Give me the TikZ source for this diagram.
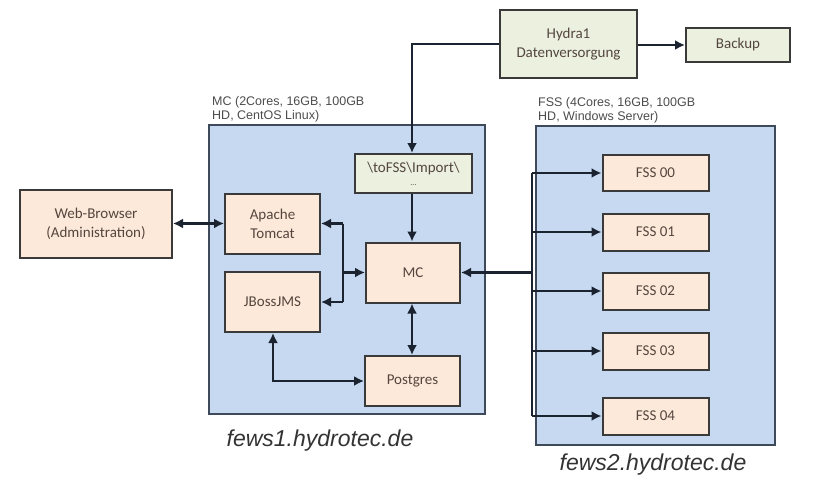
\documentclass[tikz,border=0pt]{standalone}
\usepackage{fontspec}
\setmainfont{Carlito}
\newfontfamily\arialf{Liberation Sans}
\usetikzlibrary{arrows.meta}
\definecolor{contfill}{HTML}{C6D9F1}
\definecolor{contdraw}{HTML}{3E4A5A}
\definecolor{peach}{HTML}{FDE9D9}
\definecolor{greenbox}{HTML}{EBF1DE}
\definecolor{boxdraw}{HTML}{3A3A3A}
\definecolor{txt}{HTML}{54463F}
\definecolor{linec}{HTML}{1C2330}
\tikzset{
  container/.style={draw=contdraw, fill=contfill, line width=1.5pt},
  pbox/.style={draw=boxdraw, fill=peach, line width=2pt, text=txt, font=\fontsize{15}{19}\selectfont, align=center, inner sep=0pt},
  gbox/.style={draw=boxdraw, fill=greenbox, line width=2pt, text=txt, font=\fontsize{15}{19}\selectfont, align=center, inner sep=0pt},
  conn/.style={draw=linec, line width=2.4pt, -{Latex[length=10pt,width=10pt]}},
  bconn/.style={draw=linec, line width=2.4pt, {Latex[length=10pt,width=10pt]}-{Latex[length=10pt,width=10pt]}},
  plain/.style={draw=linec, line width=2.4pt},
  hostlbl/.style={font=\arialf\fontsize{12.5}{14}\selectfont, text=black!70, align=left, anchor=north west, inner sep=0pt},
  caption/.style={font=\arialf\itshape\fontsize{23}{26}\selectfont, text=black!80, inner sep=0pt}
}
\begin{document}
\begin{tikzpicture}[x=1pt,y=-1pt]
\useasboundingbox (0,0) rectangle (837,476);
% labels behind containers
\node[hostlbl] (mclbl) at (212,96) {MC (2Cores, 16GB, 100GB\\HD, CentOS Linux)};
\node[hostlbl] (fsslbl) at (538,97) {FSS (4Cores, 16GB, 100GB\\HD, Windows Server)};
% containers
\path[container] (209,125) rectangle (485,414);
\path[container] (536,126) rectangle (775,445);
\node[caption] (cap1) at (320,441) {fews1.hydrotec.de};
\node[caption] (cap2) at (653,465) {fews2.hydrotec.de};
% boxes
\node[gbox, minimum width=137pt, minimum height=68pt] (hydra) at (568.5,44) {Hydra1\\Datenversorgung};
\node[gbox, minimum width=104pt, minimum height=34pt] (backup) at (738,45) {Backup};
\node[gbox, minimum width=117pt, minimum height=39pt] (import) at (413.5,173.5) {\textbackslash toFSS\textbackslash Import\textbackslash\\[-6pt]{\fontsize{8}{8}\selectfont ...}};
\node[pbox, minimum width=152pt, minimum height=68pt] (web) at (96,223.5) {Web-Browser\\(Administration)};
\node[pbox, minimum width=95pt, minimum height=60pt] (tomcat) at (272.5,223.5) {Apache\\Tomcat};
\node[pbox, minimum width=95pt, minimum height=60pt] (jboss) at (272.5,302) {JBossJMS};
\node[pbox, minimum width=94pt, minimum height=60pt] (mc) at (413,272.5) {MC};
\node[pbox, minimum width=95pt, minimum height=50pt] (pg) at (412.5,381) {Postgres};
\node[pbox, minimum width=106pt, minimum height=36pt] (f0) at (655.5,173) {FSS 00};
\node[pbox, minimum width=106pt, minimum height=37pt] (f1) at (655.5,232) {FSS 01};
\node[pbox, minimum width=106pt, minimum height=37pt] (f2) at (655.5,291) {FSS 02};
\node[pbox, minimum width=106pt, minimum height=37pt] (f3) at (655.5,351) {FSS 03};
\node[pbox, minimum width=106pt, minimum height=37pt] (f4) at (655.5,416) {FSS 04};
% coordinates
\coordinate (hk) at (412,44);
\coordinate (tk) at (343,272.5);
\coordinate (jk) at (273,381);
\coordinate (fk) at (532,272.5);
% connectors
\draw[conn] (hydra.west) -- (hk) -- (import.north -| hk);
\draw[conn] (hydra.east |- backup.west) -- (backup.west);
\draw[conn] (import.south -| hk) -- (mc.north -| hk);
\draw[bconn] (web.east) -- (tomcat.west);
\draw[plain] (tk |- tomcat.east) -- (tk |- jboss.east);
\draw[conn] (tk) -- (mc.west);
\draw[conn] (tk |- tomcat.east) -- (tomcat.east);
\draw[conn] (tk |- jboss.east) -- (jboss.east);
\draw[bconn] (mc.south -| hk) -- (pg.north -| hk);
\draw[bconn] (jboss.south -| jk) -- (jk) -- (pg.west);
\draw[conn] (fk) -- (mc.east);
\draw[plain] (fk |- f0.west) -- (fk |- f4.west);
\foreach \f in {f0,f1,f2,f3,f4} {\draw[conn] (fk |- \f.west) -- (\f.west);}
\end{tikzpicture}
\end{document}
